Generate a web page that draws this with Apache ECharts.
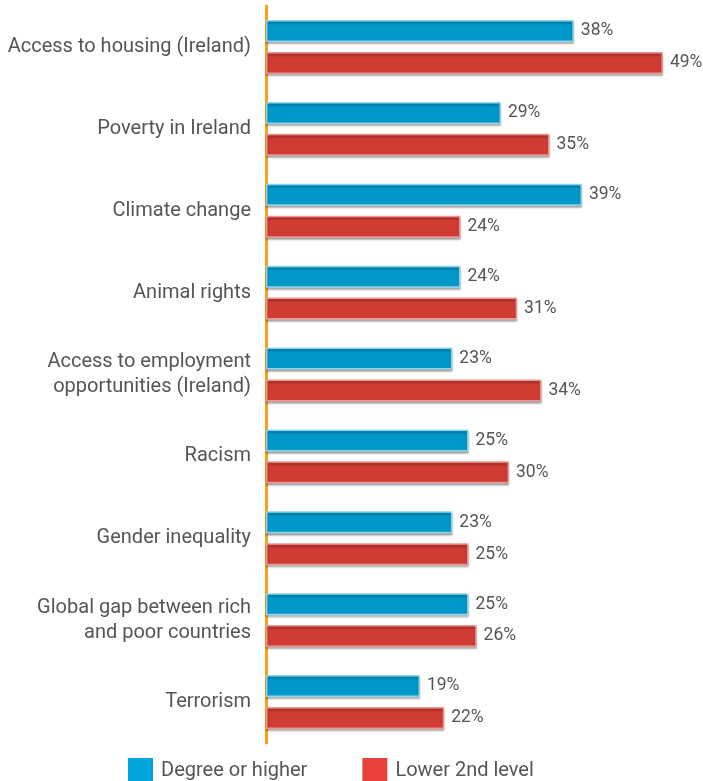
<!DOCTYPE html>
<html><head><meta charset="utf-8">
<script src="https://cdn.jsdelivr.net/npm/echarts@6/dist/echarts.min.js"></script>
<style>html,body{margin:0;padding:0;background:#fff}#c{width:703px;height:781px}</style>
</head><body><div id="c"></div>
<script>
const categories = ["Access to housing (Ireland)","Poverty in Ireland","Climate change","Animal rights","Access to employment\nopportunities (Ireland)","Racism","Gender inequality","Global gap between rich\nand poor countries","Terrorism"];
const degree = [38,29,39,24,23,25,23,25,19];
const lower2nd = [49,35,24,31,34,30,25,26,22];
const seriesNames = ["Degree or higher","Lower 2nd level"];

const chart = echarts.init(document.getElementById('c'));
const labelStyle = {show:true, position:'right', distance:7, formatter:'{c}%', color:'#555', fontSize:17.5, fontFamily:'Roboto'};
chart.setOption({
  animation:false,
  textStyle:{fontFamily:'Roboto'},
  grid:{left:266, right:32, top:6, bottom:38, containLabel:false},
  xAxis:{type:'value', min:0, max:50, show:false},
  yAxis:{type:'category', data:categories, inverse:true,
    axisLine:{show:true, lineStyle:{color:'#f5a31a', width:3}},
    axisTick:{show:false},
    axisLabel:{color:'#555', fontSize:20, fontFamily:'Roboto', margin:15, lineHeight:25, align:'right'}},
  legend:{data:[
      {name:seriesNames[0], itemStyle:{color:'#00a6dd', borderWidth:0, shadowBlur:0, shadowOffsetY:0}},
      {name:seriesNames[1], itemStyle:{color:'#e8413c', borderWidth:0, shadowBlur:0, shadowOffsetY:0}}],
    left:123, top:753, itemWidth:25, itemHeight:25, itemGap:55, icon:'rect',
    textStyle:{color:'#555', fontSize:20, fontFamily:'Roboto', padding:[0,0,0,3]}},
  series:[
    {name:seriesNames[0], type:'bar', data:degree, barWidth:22, barGap:'45%',
      itemStyle:{color:'#0098c9', borderColor:'#8fd3ec', borderWidth:1.5, shadowColor:'rgba(0,0,0,0.3)', shadowOffsetY:2, shadowBlur:2},
      label:labelStyle},
    {name:seriesNames[1], type:'bar', data:lower2nd, barWidth:22,
      itemStyle:{color:'#d03c33', borderColor:'#ec9793', borderWidth:1.5, shadowColor:'rgba(0,0,0,0.3)', shadowOffsetY:2, shadowBlur:2},
      label:labelStyle}
  ]
});
</script></body></html>
